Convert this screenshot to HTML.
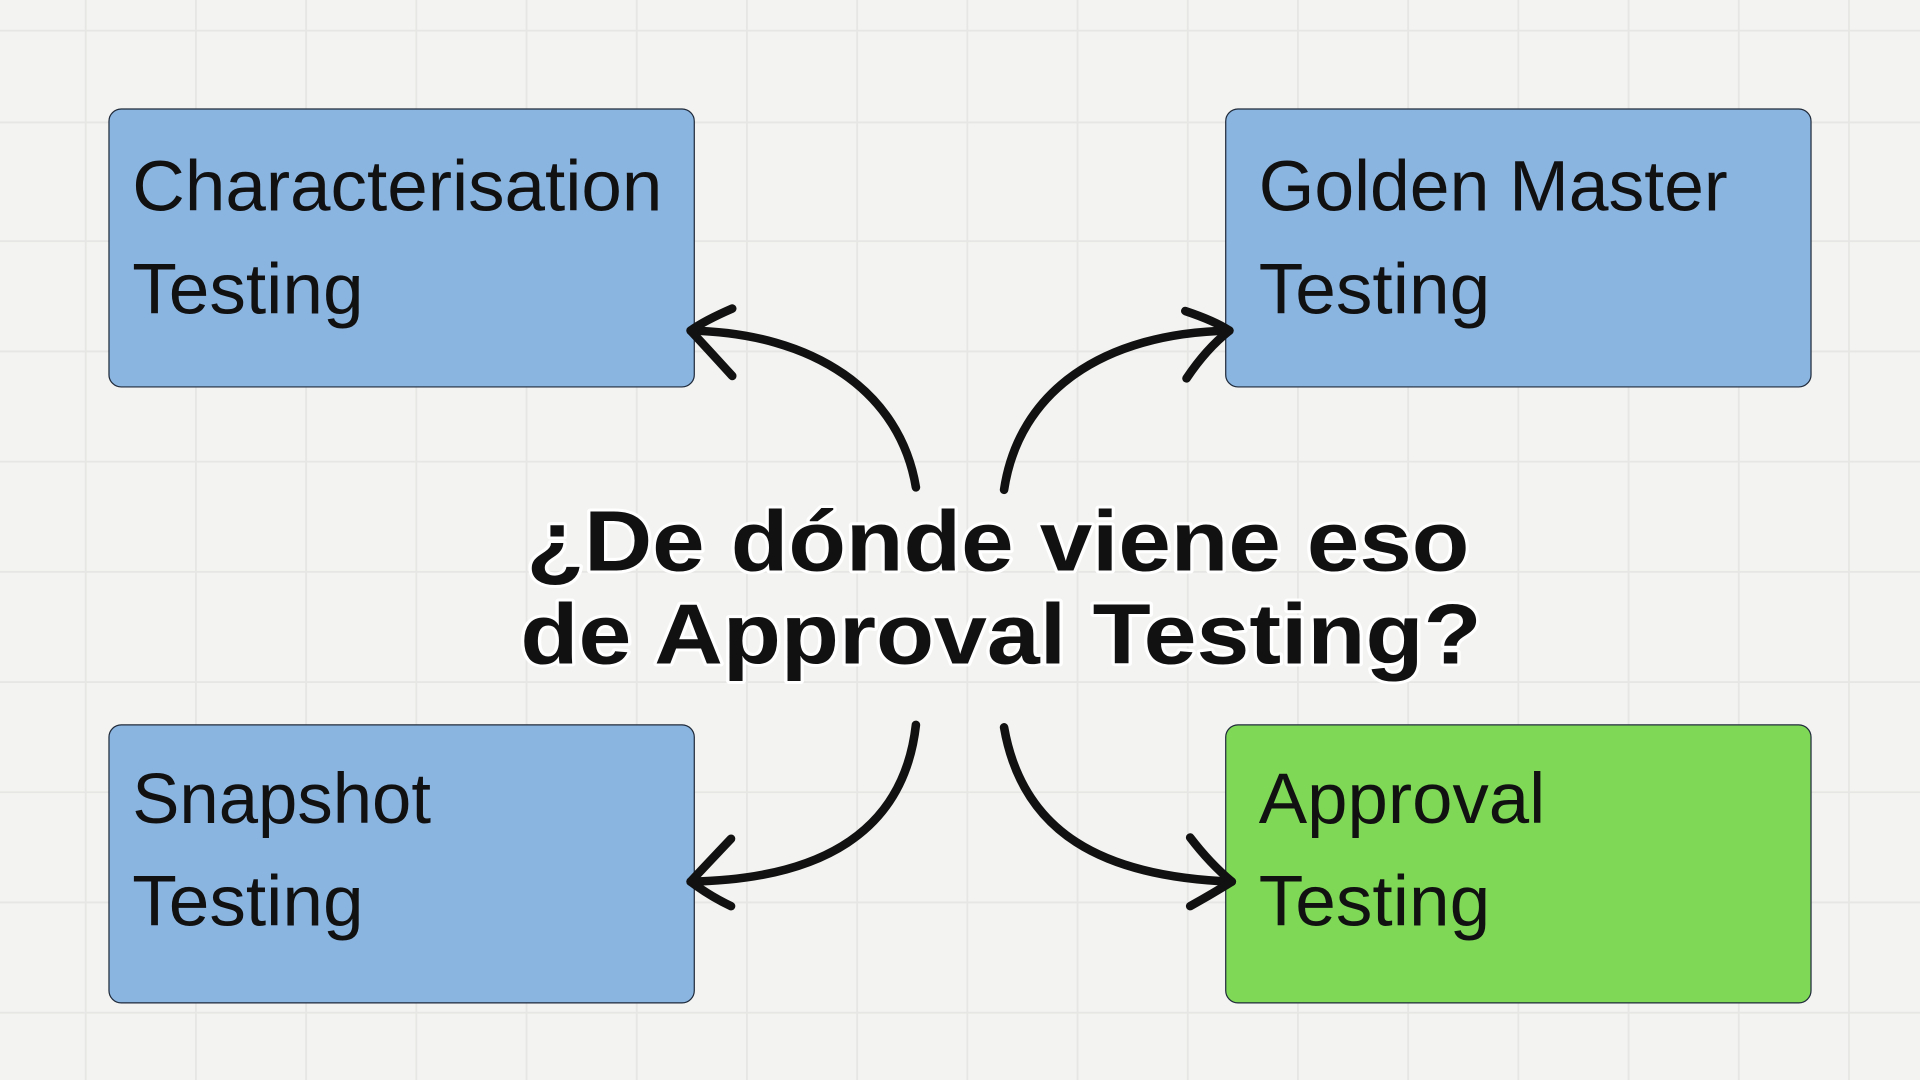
<!DOCTYPE html>
<html><head><meta charset="utf-8"><style>
html,body{margin:0;padding:0;background:#f2f2f0;}
svg{display:block}
</style></head><body>
<svg width="1920" height="1080" viewBox="0 0 1568 882" xmlns="http://www.w3.org/2000/svg">
<rect width="1568" height="882" fill="#f3f3f1"/>
<g stroke="#e6e6e4" stroke-width="1.5">
<line x1="70" y1="0" x2="70" y2="882"/><line x1="160" y1="0" x2="160" y2="882"/><line x1="250" y1="0" x2="250" y2="882"/><line x1="340" y1="0" x2="340" y2="882"/><line x1="430" y1="0" x2="430" y2="882"/><line x1="520" y1="0" x2="520" y2="882"/><line x1="610" y1="0" x2="610" y2="882"/><line x1="700" y1="0" x2="700" y2="882"/><line x1="790" y1="0" x2="790" y2="882"/><line x1="880" y1="0" x2="880" y2="882"/><line x1="970" y1="0" x2="970" y2="882"/><line x1="1060" y1="0" x2="1060" y2="882"/><line x1="1150" y1="0" x2="1150" y2="882"/><line x1="1240" y1="0" x2="1240" y2="882"/><line x1="1330" y1="0" x2="1330" y2="882"/><line x1="1420" y1="0" x2="1420" y2="882"/><line x1="1510" y1="0" x2="1510" y2="882"/>
<line x1="0" y1="25" x2="1568" y2="25"/><line x1="0" y1="100" x2="1568" y2="100"/><line x1="0" y1="197" x2="1568" y2="197"/><line x1="0" y1="287" x2="1568" y2="287"/><line x1="0" y1="377" x2="1568" y2="377"/><line x1="0" y1="467" x2="1568" y2="467"/><line x1="0" y1="557" x2="1568" y2="557"/><line x1="0" y1="647" x2="1568" y2="647"/><line x1="0" y1="737" x2="1568" y2="737"/><line x1="0" y1="827" x2="1568" y2="827"/>
</g>
<g stroke="#1f2a3a" stroke-width="1">
<rect x="89" y="89" width="478" height="227" rx="10" fill="#8bb5e1"/>
<rect x="1001" y="89" width="478" height="227" rx="10" fill="#8bb5e1"/>
<rect x="89" y="592" width="478" height="227" rx="10" fill="#8bb5e1"/>
<rect x="1001" y="592" width="478" height="227" rx="10" fill="#7fd957"/>
</g>
<g font-family="'Liberation Sans', sans-serif" font-size="58" fill="#111">
<text x="108" y="172" textLength="433" lengthAdjust="spacingAndGlyphs">Characterisation</text>
<text x="108" y="256" textLength="189" lengthAdjust="spacingAndGlyphs">Testing</text>
<text x="1028" y="172" textLength="383" lengthAdjust="spacingAndGlyphs">Golden Master</text>
<text x="1028" y="256" textLength="189" lengthAdjust="spacingAndGlyphs">Testing</text>
<text x="108" y="672" textLength="244" lengthAdjust="spacingAndGlyphs">Snapshot</text>
<text x="108" y="756" textLength="189" lengthAdjust="spacingAndGlyphs">Testing</text>
<text x="1028" y="672" textLength="234" lengthAdjust="spacingAndGlyphs">Approval</text>
<text x="1028" y="756" textLength="189" lengthAdjust="spacingAndGlyphs">Testing</text>
</g>
<g fill="none" stroke="#111" stroke-width="7" stroke-linecap="round" stroke-linejoin="round">
<path d="M748,398 C735,320 665,272 564,270"/>
<path d="M598,252 Q575,262 564,270 Q578,285 598,307"/>
<path d="M820,400 C832,320 900,272 1004,270"/>
<path d="M968,254 Q992,262 1004,270 Q985,285 969,309"/>
<path d="M748,592 C738,680 670,718 564,720"/>
<path d="M597,685 Q578,705 564,720 Q580,732 597,740"/>
<path d="M820,594 C835,680 900,716 1006,720"/>
<path d="M972,684 Q988,705 1006,720 Q990,730 972,740"/>
</g>
<g font-family="'Liberation Sans', sans-serif" font-weight="bold" font-size="70" fill="#111" stroke="#fff" stroke-width="5" paint-order="stroke" stroke-linejoin="round">
<text x="430" y="466" textLength="770" lengthAdjust="spacingAndGlyphs">¿De dónde viene eso</text>
<text x="425" y="542" textLength="785" lengthAdjust="spacingAndGlyphs">de Approval Testing?</text>
</g>
</svg>
</body></html>
